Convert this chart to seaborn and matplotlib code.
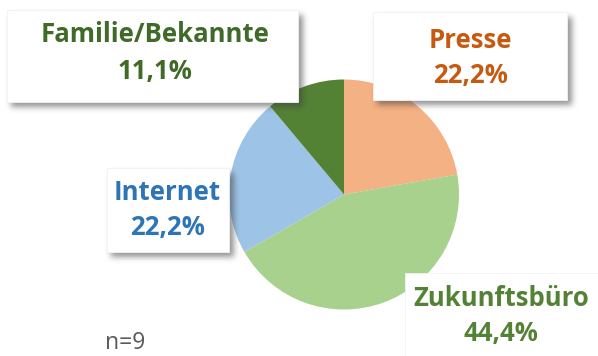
import numpy as np
import matplotlib
matplotlib.use("Agg")
import matplotlib.pyplot as plt
from matplotlib.patches import Rectangle
import seaborn as sns

# Survey answers: where respondents heard about the office
categories = ["Presse", "Zukunftsbüro", "Internet", "Familie/Bekannte"]
counts = [2, 4, 2, 1]
slice_colors = ["#F4B183", "#A9D18E", "#9DC3E6", "#548235"]
text_colors = ["#C55A11", "#548235", "#2E75B6", "#3F6A27"]
sample_note = "n=9"

sns.set_theme(style="white")
plt.rcParams["font.family"] = ["Open Sans", "DejaVu Sans"]

W, H = 598, 356
fig = plt.figure(figsize=(W / 100, H / 100), dpi=100)
fig.patch.set_facecolor("white")

# Pie axes: centre at (344, 194.5) px, radius 115 px
cx, cy, r = 344, 194.5, 115
pie_ax = fig.add_axes([(cx - r) / W, (H - cy - r) / H, 2 * r / W, 2 * r / H])
pie_ax.pie(counts, colors=sns.color_palette(slice_colors), startangle=90,
           counterclock=False, radius=1,
           wedgeprops=dict(linewidth=0))
pie_ax.set_xlim(-1, 1)
pie_ax.set_ylim(-1, 1)
pie_ax.set_aspect("equal")
pie_ax.axis("off")

# Overlay axes in pixel units for the callout boxes
lab = fig.add_axes([0, 0, 1, 1], zorder=5)
lab.set_xlim(0, W)
lab.set_ylim(H, 0)
lab.axis("off")
lab.patch.set_alpha(0)

# Callout boxes (left, top, right, bottom) and text anchor per category
boxes = {
    "Presse": ((373, 12, 567, 100), (470, 40, 75)),
    "Zukunftsbüro": ((405, 273, 600, 360), (501, 299, 334)),
    "Internet": ((107, 168, 229, 252), (167, 193, 228)),
    "Familie/Bekannte": ((7, 10, 298, 102), (155, 34, 71)),
}
shadow_boxes = ["Presse", "Internet", "Familie/Bekannte"]

# Soft drop shadow behind the boxes
mask = np.zeros((H, W))
for name in shadow_boxes:
    (l, t, rgt, b), _ = boxes[name]
    mask[int(t + 5):int(b + 5), int(l + 4):int(rgt + 5)] = 1.0

def blur(a, sigma):
    k = np.arange(-3 * sigma, 3 * sigma + 1)
    g = np.exp(-k ** 2 / (2 * sigma ** 2))
    g /= g.sum()
    a = np.apply_along_axis(lambda v: np.convolve(v, g, mode="same"), 0, a)
    a = np.apply_along_axis(lambda v: np.convolve(v, g, mode="same"), 1, a)
    return a

soft = blur(mask, 3) * 0.55
rgba = np.zeros((H, W, 4))
rgba[..., :3] = 0.25
rgba[..., 3] = soft
lab.imshow(rgba, extent=(0, W, H, 0), zorder=1, interpolation="bilinear")

total = sum(counts)
for name, n, tc in zip(categories, counts, text_colors):
    (l, t, rgt, b), (tx, y1, y2) = boxes[name]
    lab.add_patch(Rectangle((l, t), rgt - l, b - t, facecolor="white",
                            edgecolor="#F2F2F2", linewidth=0.6, zorder=2))
    pct = f"{n / total * 100:.1f}".replace(".", ",") + "%"
    lab.text(tx, y1, name, color=tc, fontsize=18.5, fontweight="bold",
             ha="center", va="center", zorder=3)
    lab.text(tx, y2, pct, color=tc, fontsize=18.5, fontweight="bold",
             ha="center", va="center", zorder=3)

lab.text(105, 343, sample_note, color="#595959", fontsize=16.5,
         ha="left", va="center", zorder=3)

fig.savefig("out.png", dpi=100, facecolor="white")
